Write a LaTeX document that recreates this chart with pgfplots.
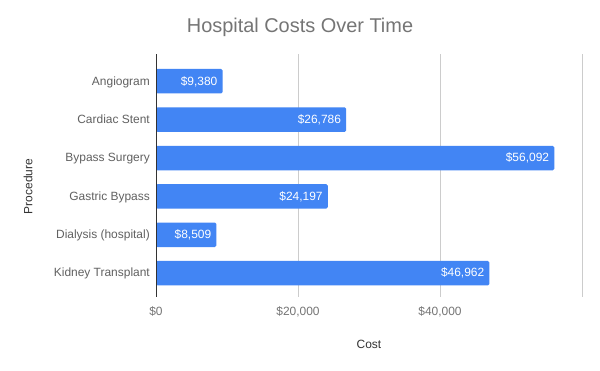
\documentclass[border=0pt]{standalone}
\usepackage{pgfplots}
\pgfplotsset{compat=1.18}
\usepackage{fontspec}
\setmainfont{Liberation Sans}
\definecolor{barblue}{HTML}{4285F4}
\definecolor{gridgray}{HTML}{CCCCCC}
\definecolor{titlegray}{HTML}{757575}
\definecolor{labgray}{HTML}{616161}
\definecolor{tickgray}{HTML}{757575}
\definecolor{axtitle}{HTML}{333333}
\begin{document}
\begin{tikzpicture}
\useasboundingbox (0,0) rectangle (600bp,371bp);
\fill[white] (0,0) rectangle (600bp,371bp);
\begin{axis}[
  at={(156bp,74bp)}, anchor=south west,
  scale only axis, width=426bp, height=243bp,
  xbar, bar width=24.5bp,
  xmin=0, xmax=60000, ymin=-0.62, ymax=5.71,
  axis line style={draw=none},
  major tick length=0pt,
  scaled x ticks=false,
  xtick={0,20000,40000,60000},
  xticklabels={{\$0},{\$20,000},{\$40,000},{}},
  xmajorgrids,
  grid style={draw=gridgray, line width=0.8bp},
  ytick={0,...,5},
  yticklabels={Kidney Transplant,Dialysis (hospital),Gastric Bypass,Bypass Surgery,Cardiac Stent,Angiogram},
  y tick label style={anchor=base east, inner sep=0pt, xshift=-6bp, yshift=-3.8bp, font=\fontsize{12}{14}\selectfont, text=labgray},
  x tick label style={anchor=base, inner sep=0pt, yshift=-18.7bp, font=\fontsize{12}{14}\selectfont, text=tickgray},
  xlabel={Cost},
  xlabel style={at={(axis description cs:0.5,0)}, anchor=base, inner sep=0pt, yshift=-51.7bp, font=\fontsize{12}{14}\selectfont, text=axtitle},
  ylabel={Procedure},
  ylabel style={at={(axis description cs:-0.2904,0.4547)}, anchor=base, inner sep=0pt, rotate=0, font=\fontsize{12}{14}\selectfont, text=axtitle},
  title={Hospital Costs Over Time},
  title style={at={(axis description cs:0.338,1.0646)}, anchor=base, inner sep=0pt, font=\fontsize{20}{24}\selectfont, text=titlegray},
  point meta=x,
  nodes near coords={\$\pgfmathprintnumber[assume math mode=true,fixed,precision=0,1000 sep={,}]{\pgfplotspointmeta}},
  nodes near coords style={anchor=base east, inner sep=0pt, xshift=-5bp, yshift=-3.8bp, text=white, font=\fontsize{12}{14}\selectfont},
]
\addplot[fill=barblue, draw=none, rounded corners=1.5bp] coordinates {
  (46962,0) (8509,1) (24197,2) (56092,3) (26786,4) (9380,5)
};
\draw[color=axtitle, line width=1bp] (axis cs:0,-0.62) -- (axis cs:0,5.71);
\end{axis}
\end{tikzpicture}
\end{document}
